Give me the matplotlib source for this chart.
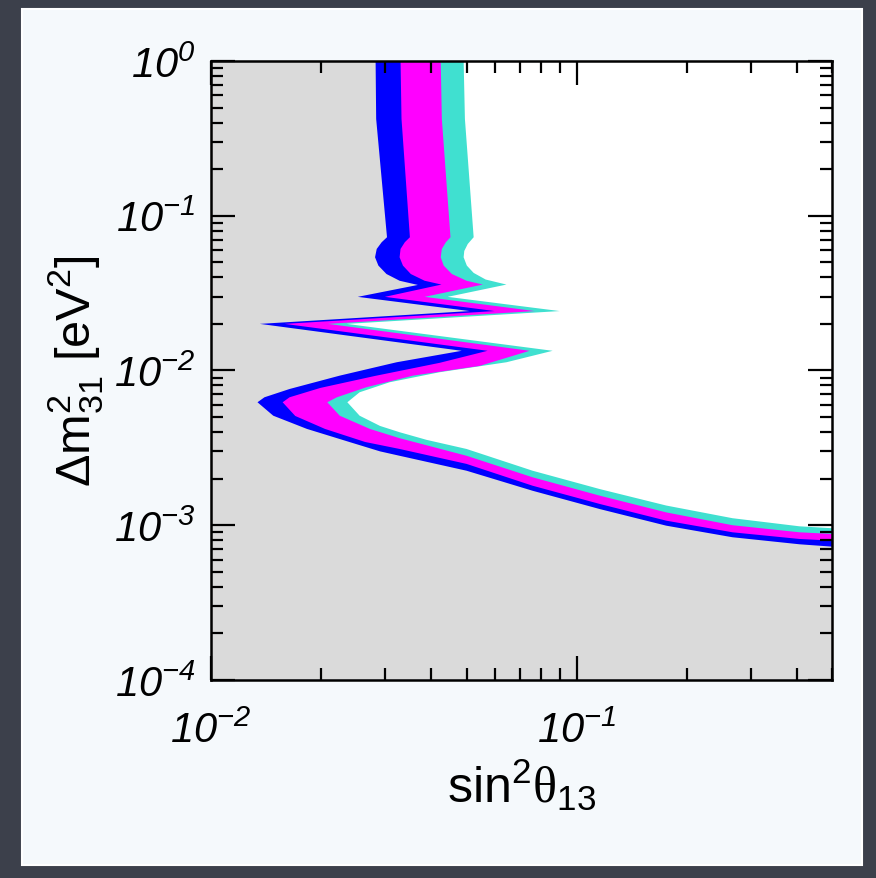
import numpy as np
import matplotlib
matplotlib.use("Agg")
import matplotlib.pyplot as plt
from matplotlib.patches import Rectangle
from matplotlib.ticker import LogLocator, NullFormatter

plt.rcParams['font.family'] = ['Liberation Sans', 'DejaVu Sans']
plt.rcParams['mathtext.fontset'] = 'custom'
plt.rcParams['mathtext.rm'] = 'Liberation Sans'
plt.rcParams['mathtext.it'] = 'Liberation Sans:italic'
plt.rcParams['mathtext.sf'] = 'Liberation Serif'

# axis ranges
xmin, xmax = 0.01, 0.5
ymin, ymax = 1e-4, 1.0
xdecades = [0.01, 0.1]
ydecades = [1e-4, 1e-3, 1e-2, 1e-1, 1.0]

# boundary curves (sin^2 theta13, dm^2_31 in eV^2),
# each running from the top of the plot down to the right edge
x_gray = [0.0282, 0.0283, 0.0303, 0.0293, 0.0284, 0.0281, 0.0287, 0.0302, 0.0328, 0.0368,
          0.0252, 0.0510, 0.0136, 0.0485, 0.0322, 0.0225, 0.0164, 0.0140, 0.0134, 0.0148,
          0.0183, 0.0240, 0.0290, 0.0328, 0.0500, 0.0758, 0.116, 0.176, 0.267, 0.407, 0.5]
y_gray = [1.0, 0.422, 0.0726, 0.0674, 0.0610, 0.0539, 0.0476, 0.0420, 0.0380, 0.0357,
          0.0299, 0.0242, 0.0200, 0.0134, 0.0113, 0.00926, 0.00759, 0.00671, 0.00623, 0.00510,
          0.00419, 0.00344, 0.00300, 0.00281, 0.00225, 0.00167, 0.00127, 0.000993, 0.000836,
          0.000753, 0.000727]

x_blue = [0.0330, 0.0332, 0.0350, 0.0339, 0.0330, 0.0328, 0.0335, 0.0352, 0.0384, 0.0427,
          0.0299, 0.0597, 0.0159, 0.0571, 0.0422, 0.0281, 0.0199, 0.0164, 0.0157, 0.0170,
          0.0205, 0.0264, 0.0328, 0.0500, 0.0758, 0.116, 0.176, 0.267, 0.407, 0.5]
y_blue = [1.0, 0.422, 0.0726, 0.0674, 0.0610, 0.0539, 0.0476, 0.0420, 0.0380, 0.0359,
          0.0299, 0.0242, 0.0200, 0.0134, 0.0112, 0.00922, 0.00771, 0.00671, 0.00623, 0.00508,
          0.00419, 0.00345, 0.00311, 0.00249, 0.00180, 0.00137, 0.00107, 0.000900, 0.000815,
          0.000795]

x_magenta = [0.0425, 0.0428, 0.0452, 0.0439, 0.0428, 0.0425, 0.0433, 0.0456, 0.0500, 0.0554,
             0.0384, 0.0768, 0.0209, 0.0744, 0.0543, 0.0357, 0.0266, 0.0221, 0.0208, 0.0225,
             0.0272, 0.0328, 0.0500, 0.0758, 0.116, 0.176, 0.267, 0.407, 0.5]
y_magenta = [1.0, 0.422, 0.0726, 0.0674, 0.0610, 0.0539, 0.0476, 0.0420, 0.0380, 0.0359,
             0.0299, 0.0242, 0.0200, 0.0134, 0.0107, 0.00926, 0.00779, 0.00671, 0.00623, 0.00510,
             0.00419, 0.00365, 0.00281, 0.00204, 0.00155, 0.00121, 0.00100, 0.000900, 0.000878]

x_cyan = [0.0491, 0.0495, 0.0523, 0.0504, 0.0493, 0.0491, 0.0501, 0.0523, 0.0564, 0.0643,
          0.0444, 0.0899, 0.0235, 0.0860, 0.0643, 0.0422, 0.0308, 0.0255, 0.0236, 0.0255,
          0.0290, 0.0328, 0.0389, 0.0500, 0.0758, 0.116, 0.176, 0.267, 0.407, 0.5]
y_cyan = [1.0, 0.422, 0.0726, 0.0657, 0.0592, 0.0539, 0.0476, 0.0427, 0.0387, 0.0359,
          0.0299, 0.0242, 0.0200, 0.0134, 0.0113, 0.00974, 0.00839, 0.00723, 0.00623, 0.00510,
          0.00438, 0.00399, 0.00356, 0.00311, 0.00225, 0.00171, 0.00134, 0.00111, 0.000984,
          0.000956]

# drawn outermost first, so each band shows between its curve and the next one
bands = [
    (x_cyan, y_cyan, '#40e0d0'),
    (x_magenta, y_magenta, '#ff00ff'),
    (x_blue, y_blue, '#0000ff'),
    (x_gray, y_gray, '#dadada'),
]

fig = plt.figure(figsize=(8.76, 8.79), dpi=100)
fig.patch.set_facecolor('#3c404b')
fig.add_artist(Rectangle((0.0251, 0.0148), 0.9589, 0.9738, transform=fig.transFigure,
                         facecolor='#f5f9fc', edgecolor='white', lw=1.5, zorder=-1))

ax = fig.add_axes([0.2409, 0.2253, 0.7089, 0.7042])
ax.set_facecolor('white')
ax.set_xscale('log')
ax.set_yscale('log')

for xs, ys, col in bands:
    px = [xmin] + list(xs) + [xmax, xmin]
    py = [ymax] + list(ys) + [ymin, ymin]
    ax.fill(px, py, color=col, lw=0)


def decade_label(v):
    return r'$\mathdefault{10^{%d}}$' % int(round(np.log10(v)))


ax.set_xticks(xdecades, [decade_label(v) for v in xdecades], fontstyle='italic')
ax.set_yticks(ydecades, [decade_label(v) for v in ydecades], fontstyle='italic')
for axis in (ax.xaxis, ax.yaxis):
    axis.set_minor_locator(LogLocator(base=10, subs=np.arange(2, 10), numticks=20))
    axis.set_minor_formatter(NullFormatter())
ax.set_xlim(xmin, xmax)
ax.set_ylim(ymin, ymax)

ax.tick_params(which='both', direction='in', top=True, right=True, width=1.6, color='black')
ax.tick_params(which='major', length=17)
ax.tick_params(which='minor', length=8.5)
ax.tick_params(axis='x', which='major', labelsize=30, pad=22)
ax.tick_params(axis='y', which='major', labelsize=30, pad=11)
for s in ax.spines.values():
    s.set_linewidth(1.8)

ax.set_xlabel(r'sin$^{2}\mathsf{\theta}_{13}$', fontsize=36)
ax.xaxis.set_label_coords(0.5, -0.122)
ax.set_ylabel(r'$\Delta$m$^{2}_{31}$ [eV$^{2}$]', fontsize=35)
ax.yaxis.set_label_coords(-0.171, 0.5)

fig.savefig('out.png', dpi=100, facecolor=fig.get_facecolor())
